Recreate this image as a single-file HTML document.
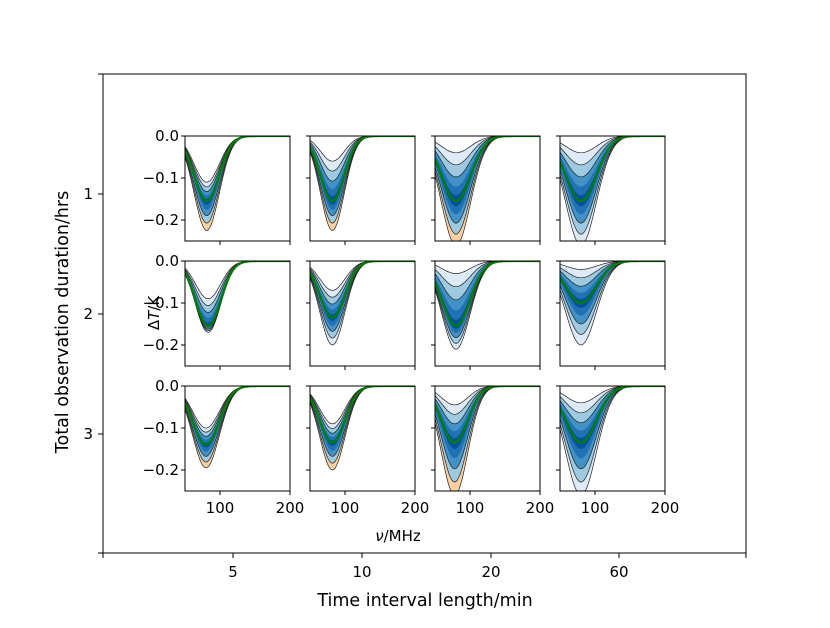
<!DOCTYPE html>
<html><head><meta charset="utf-8">
<style>
body{margin:0;background:#fff;}
svg{font-family:"DejaVu Sans","Liberation Sans",sans-serif;}
</style></head>
<body>
<svg id="chart" width="830" height="623" viewBox="0 0 830 623" xmlns="http://www.w3.org/2000/svg">
<rect x="103" y="74" width="643" height="479" fill="none" stroke="#000" stroke-width="1"/>
<g id="outer"></g>
<g id="panels"></g>
<text x="425" y="606" font-size="17.5" text-anchor="middle">Time interval length/min</text>
<text transform="translate(68,322) rotate(-90)" font-size="17.5" text-anchor="middle">Total observation duration/hrs</text>
<text x="398" y="541" font-size="15" text-anchor="middle"><tspan font-style="italic">ν</tspan>/MHz</text>
<text transform="translate(159,313) rotate(-90)" font-size="15" text-anchor="middle">Δ<tspan font-style="italic">T</tspan>/K</text>
</svg>
<script>
const colLabels = ["5","10","20","60"];
const rowLabels = ["1","2","3"];
// per panel, row-major (3 rows x 4 cols)
const centers  = [81,82,80,80, 83,82,80,80, 80,82,78,80];
const sigmas   = [18,17,21,22, 18,18,20,22, 19,18,19,22];
const greenAmp = [-0.155,-0.155,-0.155,-0.155, -0.155,-0.135,-0.155,-0.1, -0.14,-0.135,-0.135,-0.135];
const maxAmp   = [-0.225,-0.225,-0.26,-0.26, -0.17,-0.2,-0.21,-0.2, -0.195,-0.2,-0.26,-0.26];
const minAmp   = [-0.11,-0.06,-0.04,-0.04, -0.09,-0.07,-0.03,-0.02, -0.1,-0.09,-0.045,-0.04];
const orange   = [1,1,1,0, 0,0,0,0, 1,1,1,0];
const xTicks = [100,200];
const yTicks = [0,-0.1,-0.2];
const yTickLabels = ["0.0","−0.1","−0.2"];

const NS="http://www.w3.org/2000/svg";
const outer=document.getElementById('outer');
const panels=document.getElementById('panels');
function mk(t,a,p){const e=document.createElementNS(NS,t);for(const k in a)e.setAttribute(k,a[k]);p.appendChild(e);return e;}

const oxT=[103,233,362,491,619,746], oyT=[74,194,314,434,553];
oxT.forEach((x,i)=>{const l=mk('line',{x1:x,x2:x,y1:553,y2:558,stroke:'#000'},outer);


if(i>0&&i<5){const t=mk('text',{x:x,y:577,'font-size':15,'text-anchor':'middle'},outer);t.textContent=colLabels[i-1];

}});
oyT.forEach((y,i)=>{const l=mk('line',{x1:98,x2:103,y1:y,y2:y,stroke:'#000'},outer);


if(i>0&&i<4){const t=mk('text',{x:93,y:y+5,'font-size':15,'text-anchor':'end'},outer);t.textContent=rowLabels[i-1];

}});

const colL=[185,310,435,560], rowT=[136,261,386], W=105, H=105;
const bandF=[1,0.75,0.5,0.3,0.12];
const bandC=['#deebf7','#9ecae1','#4292c6','#2171b5','#08519c'];
for(let r=0;r<3;r++)for(let c=0;c<4;c++){
  const i=r*4+c, L=colL[c], T=rowT[r];
  const sx=v=>L+(v-50)/150*W, sy=v=>T+(0-v)/0.25*H;
  const g=mk('g',{},panels);
  
  
  const cp=mk('clipPath',{id:'cp'+i},g);mk('rect',{x:L,y:T,width:W,height:H},cp);
  const inner=mk('g',{'clip-path':'url(#cp'+i+')'},g);
  const curve=a=>{const pts=[];for(let v=50;v<=200;v+=2){pts.push([sx(v),sy(a*Math.exp(-Math.pow(v-centers[i],2)/(2*sigmas[i]*sigmas[i])))]);}return pts;};
  const ps=p=>p.map(q=>q[0].toFixed(1)+','+q[1].toFixed(1)).join(' ');
  bandF.forEach((f,k)=>{
    const hi=greenAmp[i]+f*(maxAmp[i]-greenAmp[i]), lo=greenAmp[i]+f*(minAmp[i]-greenAmp[i]);
    const gm=curve(greenAmp[i]);
    const p1=mk('polygon',{points:ps(curve(lo).concat(gm.slice().reverse())),fill:bandC[k],stroke:'none'},inner);
    
    
    const col=(k===0&&orange[i])?'#fdd0a2':bandC[k];
    const p2=mk('polygon',{points:ps(gm.concat(curve(hi).reverse())),fill:col,stroke:'none'},inner);
    
    
  });
  [1,0.75,0.5].forEach(f=>{
    [maxAmp[i],minAmp[i]].forEach(m=>{
      const a=greenAmp[i]+f*(m-greenAmp[i]);
      const pl=mk('polyline',{points:ps(curve(a)),fill:'none',stroke:'#222','stroke-width':0.7},inner);
      
      
    });
  });
  const gl=mk('polyline',{points:ps(curve(greenAmp[i])),fill:'none',stroke:'#008000','stroke-width':2.2},inner);
  
  
  const fr=mk('rect',{x:L,y:T,width:W,height:H,fill:'none',stroke:'#000','stroke-width':1},g);
  
  
  xTicks.forEach(v=>{
    const tl=mk('line',{x1:sx(v),x2:sx(v),y1:T+H,y2:T+H+4,stroke:'#000'},g);
    
    
    if(r===2){const t=mk('text',{x:sx(v),y:T+H+22,'font-size':15,'text-anchor':'middle'},g);t.textContent=String(v);
      
      }
  });
  yTicks.forEach((v,k)=>{
    const tl=mk('line',{x1:L-4,x2:L,y1:sy(v),y2:sy(v),stroke:'#000'},g);
    
    
    if(c===0){const t=mk('text',{x:L-6,y:sy(v)+5,'font-size':15,'text-anchor':'end'},g);t.textContent=yTickLabels[k];
      
      }
  });
}
</script>
</body></html>
